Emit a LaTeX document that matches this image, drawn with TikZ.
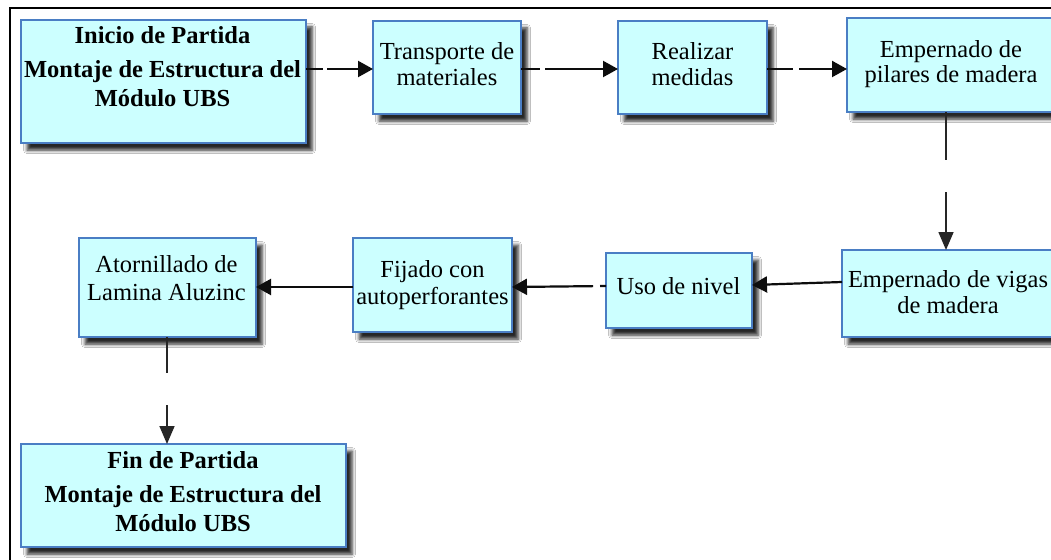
\documentclass[tikz,border=0pt]{standalone}
\usepackage{fontspec}
\setmainfont{Liberation Serif}
\usetikzlibrary{arrows.meta,shadows.blur,calc}
\definecolor{boxfill}{HTML}{CCFFFF}
\definecolor{boxline}{HTML}{4A7EC4}
\tikzset{
  box/.style={draw=boxline, fill=boxfill, line width=1.1pt, inner sep=0pt, outer sep=0pt,
    blur shadow={shadow xshift=6pt, shadow yshift=-7pt, shadow blur radius=3.5pt, shadow opacity=85}},
  txt/.style={align=center, inner sep=0pt, font=\fontsize{24.5pt}{26pt}\selectfont},
  arr/.style={draw=black!95, line width=2.2pt, -{Triangle[length=15pt,width=16pt]}},
  varr/.style={draw=black!85, line width=1.6pt, -{Triangle[length=18pt,width=15pt]}},
}
\begin{document}
\begin{tikzpicture}[x=1pt,y=-1pt]
\clip (0,0) rectangle (1051,559);
\useasboundingbox (0,0) rectangle (1051,559);
\fill[white] (0,0) rectangle (1051,559);
\draw[line width=2.5pt] (10,8) rectangle (1080,580);

% boxes
\node[box, minimum width=285pt, minimum height=123pt] (ini) at (163.5,81.5) {};
\node[box, minimum width=148pt, minimum height=93pt] (tra) at (447,67.5) {};
\node[box, minimum width=149pt, minimum height=93pt] (rea) at (692.5,67.5) {};
\node[box, minimum width=223pt, minimum height=94pt] (pil) at (958.5,65) {};
\node[box, minimum width=228pt, minimum height=87pt] (vig) at (956,293.5) {};
\node[box, minimum width=146pt, minimum height=75pt] (uso) at (679,290.5) {};
\node[box, minimum width=159pt, minimum height=94pt] (fij) at (432.5,285) {};
\node[box, minimum width=177pt, minimum height=99pt] (ato) at (167.5,287.5) {};
\node[box, minimum width=325pt, minimum height=103pt] (fin) at (183.5,495.5) {};

% texts
\node[txt, font=\fontsize{24.5pt}{29pt}\selectfont\bfseries] (iniT) at (162.5,66.2)
  {Inicio de Partida\\[5pt]Montaje de Estructura del\\Módulo UBS};
\node[txt] (traT) at (447,63.8) {Transporte de\\materiales};
\node[txt] (reaT) at (692.5,63.8) {Realizar\\medidas};
\node[txt, font=\fontsize{24.5pt}{25pt}\selectfont] (pilT) at (951,63.9) {Empernado de\\pilares de madera};
\node[txt] (vigT) at (948,291.7) {Empernado de vigas\\de madera};
\node[txt] (usoT) at (678.5,285.7) {Uso de nivel};
\node[txt, font=\fontsize{24.5pt}{27pt}\selectfont] (fijT) at (432.5,284.9) {Fijado con\\autoperforantes};
\node[txt, font=\fontsize{24.5pt}{28pt}\selectfont] (atoT) at (166.5,277.8) {Atornillado de\\Lamina Aluzinc};
\node[txt, font=\fontsize{24.5pt}{29pt}\selectfont\bfseries] (finT) at (183,491.3)
  {Fin de Partida\\[5pt]Montaje de Estructura del\\Módulo UBS};

% connectors
\draw[arr, dash pattern=on 17pt off 4pt on 400pt] (ini.east |- 0,69) -- (tra.west |- 0,69);
\draw[arr, dash pattern=on 19pt off 5pt on 400pt] (tra.east |- 0,69) -- (rea.west |- 0,69);
\draw[arr, dash pattern=on 26pt off 6pt on 400pt] (rea.east |- 0,69) -- (pil.west |- 0,69);
\draw[varr, dash pattern=on 48pt off 32pt on 400pt] (pil.south -| 946,0) -- (vig.north -| 946,0);
\draw[arr] (vig.west |- 0,282) -- (uso.east |- 0,285);
\draw[arr, dash pattern=on 6pt off 7pt on 400pt] (uso.west |- 0,286) -- (fij.east |- 0,287);
\draw[arr] (fij.west |- 0,287) -- (ato.east |- 0,287);
\draw[varr, dash pattern=on 36pt off 32pt on 400pt] (ato.south -| 167,0) -- (fin.north -| 167,0);
\end{tikzpicture}
\end{document}
